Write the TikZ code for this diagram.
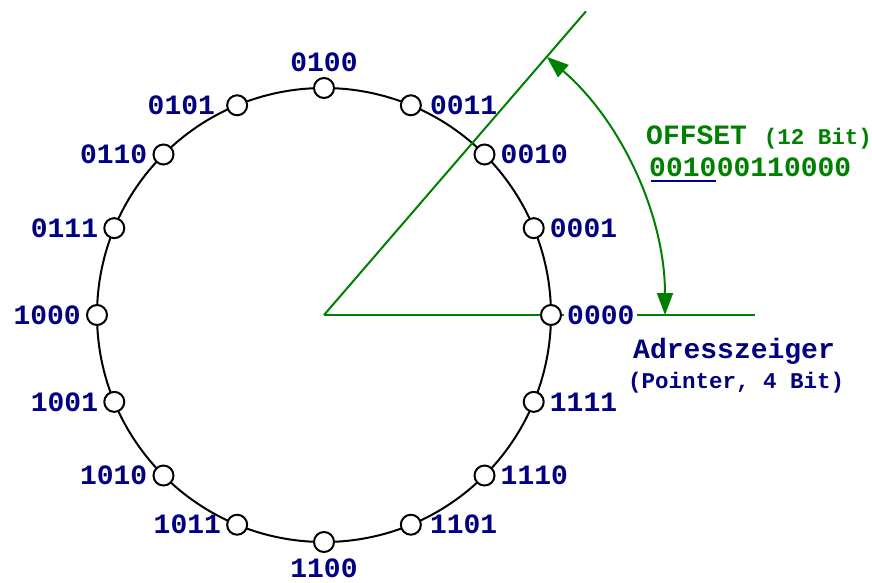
\documentclass[tikz,border=0pt]{standalone}
\usepackage{fontspec}
\setmainfont{Liberation Mono}
\usetikzlibrary{arrows.meta}
\definecolor{navy}{RGB}{0,0,128}
\definecolor{ogreen}{RGB}{0,128,0}
\tikzset{
  slot/.style={circle, draw=black, line width=2pt, fill=white,
               minimum size=20pt, inner sep=0pt},
  bigtext/.style={font=\fontsize{28}{30}\selectfont\bfseries},
  smalltext/.style={font=\fontsize{22.5}{25}\selectfont\bfseries},
  addr/.style={bigtext, text=navy, inner sep=3pt},
  gline/.style={draw=ogreen, line width=2pt}
}
\begin{document}
\begin{tikzpicture}[x=1pt, y=1pt]
\useasboundingbox (-324,-267) rectangle (548,315);

% ring of addresses
\draw[line width=2pt] (0,0) circle[radius=227];

% pointer direction (0000) and offset direction
\coordinate (c) at (0,0);
\coordinate (z) at (431,0);
\coordinate (o) at (49.21875:401);
\draw[gline] (c) -- (z);
\draw[gline] (c) -- (o);

% offset angle
\coordinate (a0) at (0:341);
\draw[gline, {Triangle[length=22pt, width=16pt]}-{Triangle[length=22pt, width=16pt]}]
  (a0) arc[start angle=0, end angle=49.21875, radius=341];

% slots on the ring
\foreach \code [count=\i from 0] in
  {0000,0001,0010,0011,0100,0101,0110,0111,1000,1001,1010,1011,1100,1101,1110,1111}
  \node[slot] (n\code) at ({\i*22.5}:227) {};

% labels, right half
\node[addr, anchor=west, fill=white] at ([xshift=2pt]n0000.east) {0000};
\foreach \code in {0001,0010,1110,1111}
  \node[addr, anchor=west] at ([xshift=2pt]n\code.east) {\code};
\foreach \code in {0011,1101}
  \node[addr, anchor=west] at ([xshift=5pt]n\code.east) {\code};
% labels, left half
\foreach \code in {0110,0111,1000,1001,1010,1011}
  \node[addr, anchor=east] at ([xshift=-2pt]n\code.west) {\code};
\node[addr, anchor=east] at ([xshift=-8pt]n0101.west) {0101};
% top and bottom
\node[addr, anchor=south] at ([yshift=2pt]n0100.north) {0100};
\node[addr, anchor=north] at ([yshift=-3pt]n1100.south) {1100};

% offset annotation
\node[bigtext, text=ogreen, anchor=base west, inner sep=0pt] (off) at (322,171)
  {OFFSET {\fontsize{22.5}{25}\selectfont(12 Bit)}};
\node[bigtext, text=ogreen, anchor=base west, inner sep=0pt] (hi) at (325,139) {0010};
\node[bigtext, text=ogreen, anchor=base west, inner sep=0pt] (lo) at (hi.base east) {00110000};
\draw[navy, line width=2pt] ([shift={(2pt,-5pt)}]hi.base west) -- ([shift={(-1pt,-5pt)}]hi.base east);

% pointer annotation
\node[bigtext, text=navy, anchor=base west, inner sep=0pt] (ptr) at (309,-43) {Adresszeiger};
\node[smalltext, text=navy, anchor=base west, inner sep=0pt] (ptrnote) at (304,-73) {(Pointer, 4 Bit)};
\end{tikzpicture}
\end{document}
